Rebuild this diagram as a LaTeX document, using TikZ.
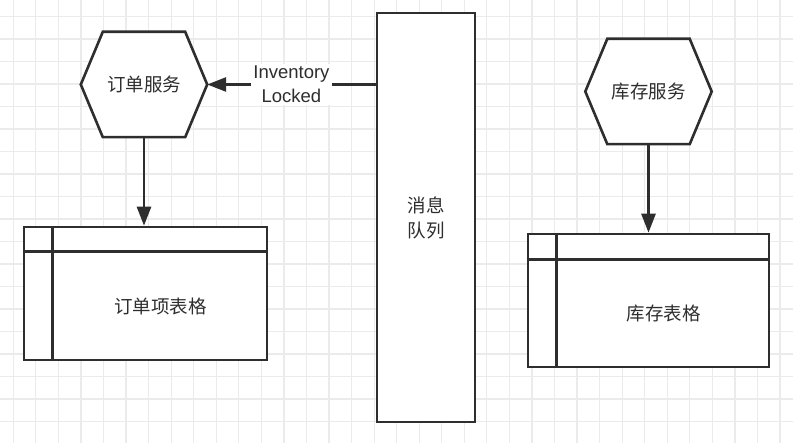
\documentclass[tikz,border=0pt]{standalone}
\usepackage{fontspec}
\setmainfont{Liberation Sans}
\newfontfamily\cjk{Noto Sans CJK SC}
\usetikzlibrary{arrows.meta}
\definecolor{ink}{HTML}{2E2E2E}
\definecolor{gridc}{HTML}{EBEBEB}
\tikzset{
  gridline/.style={draw=gridc, line width=1.2pt},
  shapeline/.style={draw=ink, line width=2.6pt, fill=white, line join=miter},
  hexbox/.style={rectangle, inner sep=0pt, minimum width=126pt, minimum height=105pt, font=\cjk\fontsize{18.5}{24}\selectfont, text=ink},
  tablebox/.style={rectangle, draw=ink, line width=2.6pt, fill=white, inner sep=0pt},
  tabletext/.style={inner sep=0pt, font=\cjk\fontsize{18.5}{24}\selectfont, text=ink},
  queuebox/.style={rectangle, draw=ink, line width=2.6pt, fill=white, inner sep=0pt, minimum width=98pt, minimum height=409pt},
  queuetext/.style={inner sep=0pt, align=center, font=\cjk\fontsize{18.5}{25}\selectfont, text=ink},
  arr/.style={draw=ink, line width=2.6pt, -{Triangle[length=19pt,width=14pt]}},
  lbl/.style={fill=white, inner sep=2pt, align=center, font=\fontsize{18.5}{24}\selectfont, text=ink}
}
\begin{document}
\begin{tikzpicture}[x=1pt,y=-1pt]
\useasboundingbox (0,0) rectangle (793,443);
\fill[white] (0,0) rectangle (793,443);
\foreach \i in {0,...,34} \draw[gridline] ({13.3+22.55*\i},0) -- ++(0,443);
\foreach \j in {0,...,19} \draw[gridline] (0,{16.5+22.5*\j}) -- ++(793,0);

% message queue
\node[queuebox] (mq) at (426,217.5) {};
\node[queuetext] (mqt) at (426,217.5) {消息\\队列};

% order service hexagon
\node[hexbox] (os) at (144,84.5) {};
\draw[shapeline] ([xshift=22pt]os.north west) -- ([xshift=-22pt]os.north east) -- (os.east)
  -- ([xshift=-22pt]os.south east) -- ([xshift=22pt]os.south west) -- (os.west) -- cycle;
\node[hexbox] (ost) at (os.center) {订单服务};

% inventory service hexagon
\node[hexbox] (is) at (648.5,91.5) {};
\draw[shapeline] ([xshift=22pt]is.north west) -- ([xshift=-22pt]is.north east) -- (is.east)
  -- ([xshift=-22pt]is.south east) -- ([xshift=22pt]is.south west) -- (is.west) -- cycle;
\node[hexbox] (ist) at (is.center) {库存服务};

% order item table
\node[tablebox, minimum width=243pt, minimum height=133pt] (ot) at (145.5,293.5) {};
\draw[draw=ink, line width=2.6pt] ([yshift=-26pt]ot.north west) -- ([yshift=-26pt]ot.north east);
\draw[draw=ink, line width=2.6pt] ([xshift=30pt]ot.north west) -- ([xshift=30pt]ot.south west);
\node[tabletext] (ott) at (160.5,306.5) {订单项表格};

% inventory table
\node[tablebox, minimum width=241pt, minimum height=133pt] (it) at (648.5,300.5) {};
\draw[draw=ink, line width=2.6pt] ([yshift=-27pt]it.north west) -- ([yshift=-27pt]it.north east);
\draw[draw=ink, line width=2.6pt] ([xshift=30pt]it.north west) -- ([xshift=30pt]it.south west);
\node[tabletext] (itt) at (663.5,314) {库存表格};

% connectors
\coordinate (qin) at (mq.west |- os.east);
\draw[arr] (qin) -- node[lbl, pos=0.5] (evt) {Inventory\\Locked} (os.east);
\draw[arr] (os.south) -- (ot.north -| os.south);
\draw[arr] (is.south) -- (it.north -| is.south);
\end{tikzpicture}
\end{document}
